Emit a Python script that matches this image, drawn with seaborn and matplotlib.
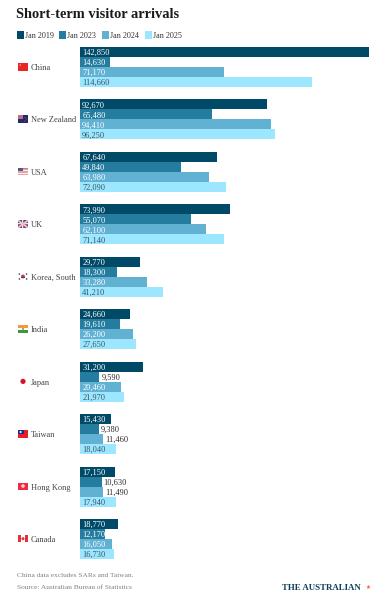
import numpy as np
import pandas as pd
import matplotlib
matplotlib.use("Agg")
import matplotlib.pyplot as plt
import seaborn as sns

countries = ["China", "New Zealand", "USA", "UK", "Korea, South", "India", "Japan", "Taiwan", "Hong Kong", "Canada"]
jan_2019 = [142850, 92670, 67640, 73990, 29770, 24660, 31200, 15430, 17150, 18770]
jan_2023 = [14630, 65480, 49840, 55070, 18300, 19610, 9590, 9380, 10630, 12170]
jan_2024 = [71170, 94410, 63980, 62100, 33280, 26200, 20460, 11460, 11490, 16050]
jan_2025 = [114660, 96250, 72090, 71140, 41210, 27650, 21970, 18040, 17940, 16730]
series = ["Jan 2019", "Jan 2023", "Jan 2024", "Jan 2025"]
colors = ["#004a68", "#247c9e", "#61b1d2", "#9ce7ff"]
outside = {(1, "Japan"), (1, "Taiwan"), (2, "Taiwan"), (1, "Hong Kong"), (2, "Hong Kong")}

W, H = 380, 602
sns.set_theme(style="white")
plt.rcParams["font.family"] = ["Liberation Serif", "DejaVu Serif"]
df = pd.DataFrame({"country": countries, "Jan 2019": jan_2019, "Jan 2023": jan_2023,
                   "Jan 2024": jan_2024, "Jan 2025": jan_2025}).melt(
    id_vars="country", var_name="period", value_name="visitors")

fig = plt.figure(figsize=(W / 100, H / 100), dpi=100)
pitch = 52.44
top = 67 - pitch / 2
ax = fig.add_axes([80 / W, 1 - (top + pitch * 10) / H, 289 / W, pitch * 10 / H])
sns.barplot(data=df, y="country", x="visitors", hue="period", order=countries, hue_order=series,
            palette=colors, saturation=1, width=40 / pitch, gap=0, dodge=True, legend=False, ax=ax,
            errorbar=None, edgecolor="none", linewidth=0)
ax.set_xlim(0, 142850)
ax.set_ylim(9.5, -0.5)
ax.set_xlabel("")
ax.set_ylabel("")
ax.set_xticks([])
ax.set_yticks([])
sns.despine(ax=ax, left=True, bottom=True)
ax.patch.set_alpha(0)

for k, (name, cont) in enumerate(zip(series, ax.containers)):
    for country, rect in zip(countries, cont):
        v = rect.get_width()
        y = rect.get_y() + rect.get_height() / 2
        out = (k, country) in outside
        col = "#2b2b2b" if out else ("#3a5666" if k == 3 else "#ffffff")
        ax.annotate(f"{int(v):,}", (v if out else 0, y), xytext=(1.6, 0),
                    textcoords="offset points", va="center_baseline", ha="left",
                    fontsize=6.0, color=col)


def fx(x): return x / W
def fy(y): return 1 - y / H


fig.text(fx(16.5), fy(18), "Short-term visitor arrivals", fontsize=10.4, fontweight="bold",
         color="#1a1a1a", va="baseline")

for x0, lab, c in zip([17, 59, 102, 145], series, colors):
    fig.patches.append(plt.Rectangle((fx(x0), fy(39)), 7 / W, 8 / H, transform=fig.transFigure,
                                     facecolor=c, edgecolor="none"))
    fig.text(fx(x0 + 8), fy(34.5), lab, fontsize=5.9, color="#333333", va="center_baseline")


def flag(i, draw):
    cy = 67 + pitch * i
    a = fig.add_axes([18 / W, 1 - (cy + 3.5) / H, 10 / W, 7.5 / H])
    a.set_xlim(0, 10)
    a.set_ylim(7.5, 0)
    a.axis("off")
    draw(a)


def box(a, x, y, w, h, c):
    a.add_patch(plt.Rectangle((x, y), w, h, facecolor=c, edgecolor="none"))


def dot(a, x, y, r, c):
    a.add_patch(plt.Circle((x, y), r, facecolor=c, edgecolor="none"))


def china(a):
    box(a, 0, 0, 10, 7.5, "#e8262a")
    dot(a, 2.2, 2, 1, "#f08030")


def nz(a):
    box(a, 0, 0, 10, 7.5, "#1d2c6e")
    box(a, 0, 0, 5, 3.5, "#c66a80")
    dot(a, 7, 2, .6, "#e8303a")
    dot(a, 8.5, 3.5, .6, "#e8303a")
    dot(a, 7, 5.5, .6, "#e8303a")


def usa(a):
    box(a, 0, 0, 10, 7.5, "#e7a3a8")
    box(a, 0, 2.6, 10, .7, "#f7eeee")
    box(a, 0, 5, 10, .7, "#f7eeee")
    box(a, 0, 0, 10, .8, "#cc7f88")
    box(a, 0, 0, 4.5, 3.4, "#4c5a8c")


def uk(a):
    box(a, 0, 0, 10, 7.5, "#46528c")
    a.plot([0, 10], [0, 7.5], color="#e8c8d0", lw=1.3, solid_capstyle="butt")
    a.plot([0, 10], [7.5, 0], color="#e8c8d0", lw=1.3, solid_capstyle="butt")
    box(a, 4, 0, 2, 7.5, "#f4dde0")
    box(a, 0, 2.8, 10, 2, "#f4dde0")
    box(a, 4.5, 0, 1, 7.5, "#d84a5a")
    box(a, 0, 3.3, 10, 1, "#d84a5a")


def korea(a):
    box(a, 0, 0, 10, 7.5, "#ffffff")
    dot(a, 5, 3.7, 1.9, "#d83040")
    a.add_patch(plt.Rectangle((3.1, 3.9), 3.8, 1.8, facecolor="#2a4a90", edgecolor="none"))
    for x, y in [(1.4, 1.3), (8.6, 1.3), (1.4, 6.2), (8.6, 6.2)]:
        dot(a, x, y, .8, "#444444")


def india(a):
    box(a, 0, 0, 10, 2.5, "#f49a30")
    box(a, 0, 2.5, 10, 2.5, "#ffffff")
    box(a, 0, 5, 10, 2.5, "#3a9a3a")
    dot(a, 5, 3.75, .8, "#304a90")


def japan(a):
    box(a, 0, 0, 10, 7.5, "#ffffff")
    dot(a, 5, 3.75, 2.6, "#d8102a")


def taiwan(a):
    box(a, 0, 0, 10, 7.5, "#e81c2a")
    box(a, 0, 0, 5.5, 3.8, "#1f2f8c")
    dot(a, 2.6, 1.9, 1, "#ffffff")


def hk(a):
    box(a, 0, 0, 10, 7.5, "#ee2a44")
    dot(a, 5, 3.5, 1.8, "#ffd0d6")


def canada(a):
    box(a, 0, 0, 10, 7.5, "#ffffff")
    box(a, 0, 0, 2.6, 7.5, "#e0303a")
    box(a, 7.4, 0, 2.6, 7.5, "#e0303a")
    dot(a, 5, 3.7, 1.5, "#e0303a")


for i, (c, d) in enumerate(zip(countries, [china, nz, usa, uk, korea, india, japan, taiwan, hk, canada])):
    flag(i, d)
    fig.text(fx(31), fy(67 + pitch * i), c, fontsize=6.0, color="#444444", va="center_baseline")

fig.text(fx(17), fy(574.7), "China data excludes SARs and Taiwan.", fontsize=5.3, color="#808080", va="center_baseline")
fig.text(fx(17), fy(586.7), "Source: Australian Bureau of Statistics", fontsize=5.3, color="#808080", va="center_baseline")
fig.text(fx(282), fy(590.5), "THE AUSTRALIAN", fontsize=6.4, fontweight="bold", color="#0f4058", va="baseline")
fig.text(fx(365.5), fy(589), "\u2605", fontsize=4, color="#ee5a44", va="baseline", ha="left", family="DejaVu Sans")
fig.savefig("out.png", dpi=100)
